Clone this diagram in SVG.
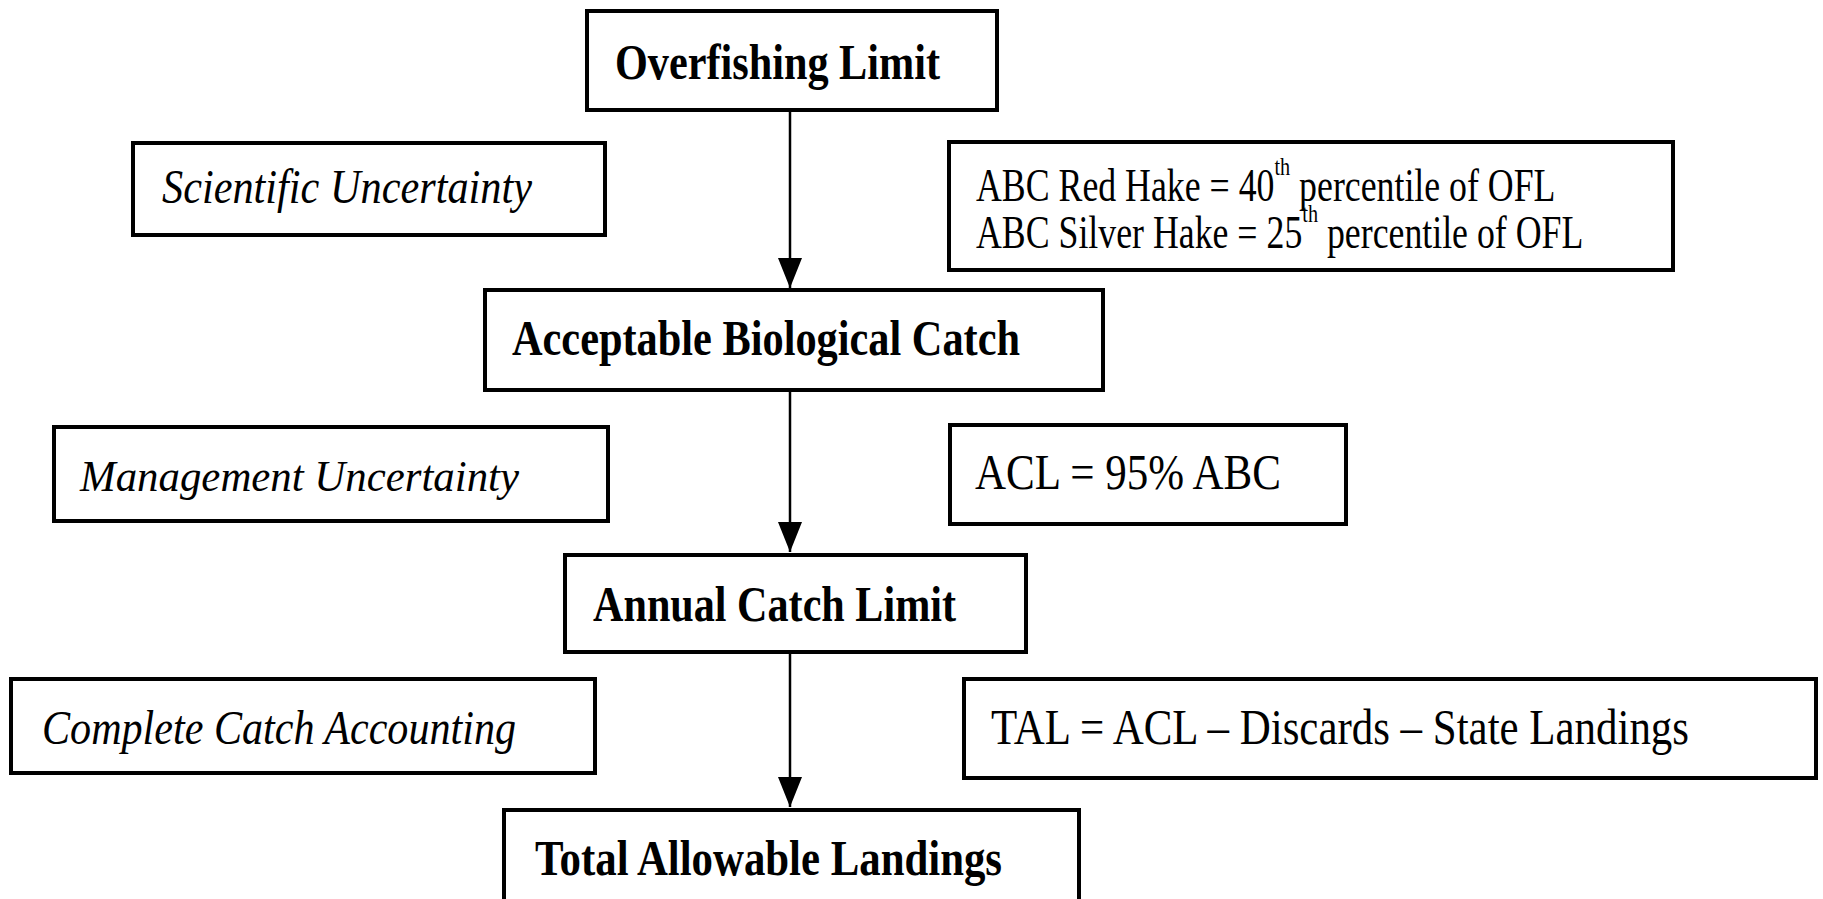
<svg xmlns="http://www.w3.org/2000/svg" width="1823" height="899" viewBox="0 0 1823 899">
<style>
.box{fill:#fff;stroke:#000;stroke-width:4}
.hd{font-family:"Liberation Serif","Times New Roman",serif;font-weight:bold;font-size:50px;fill:#000}
.it{font-family:"Liberation Serif","Times New Roman",serif;font-style:italic;fill:#000}
.rg{font-family:"Liberation Serif","Times New Roman",serif;fill:#000}
.cn{stroke:#000;stroke-width:2.5;fill:none}
</style>
<defs>
<marker id="ah" viewBox="0 0 30 24" refX="30" refY="12" markerWidth="30" markerHeight="24" markerUnits="userSpaceOnUse" orient="auto">
<path d="M0,0 L30,12 L0,24 z" fill="#000"/>
</marker>
</defs>
<rect width="1823" height="899" fill="#fff"/>
<g id="connectors">
<line class="cn" x1="790" y1="112" x2="790" y2="288" marker-end="url(#ah)"/>
<line class="cn" x1="790" y1="392" x2="790" y2="552" marker-end="url(#ah)"/>
<line class="cn" x1="790" y1="654" x2="790" y2="807" marker-end="url(#ah)"/>
</g>
<g id="ofl">
<rect class="box" x="587" y="11" width="410" height="99"/>
<text class="hd" x="615" y="79" textLength="325" lengthAdjust="spacingAndGlyphs">Overfishing Limit</text>
</g>
<g id="sci">
<rect class="box" x="133" y="143" width="472" height="92"/>
<text class="it" x="162" y="203" font-size="48" textLength="370" lengthAdjust="spacingAndGlyphs">Scientific Uncertainty</text>
</g>
<g id="abcrule">
<rect class="box" x="949" y="142" width="724" height="128"/>
<text class="rg" font-size="46" transform="translate(976,201) scale(0.778,1)">ABC Red Hake = 40<tspan font-size="26" dy="-26">th</tspan><tspan dy="26"> percentile of OFL</tspan></text>
<text class="rg" font-size="46" transform="translate(976,248) scale(0.778,1)">ABC Silver Hake = 25<tspan font-size="26" dy="-26">th</tspan><tspan dy="26"> percentile of OFL</tspan></text>
</g>
<g id="abc">
<rect class="box" x="485" y="290" width="618" height="100"/>
<text class="hd" x="512" y="355" textLength="508" lengthAdjust="spacingAndGlyphs">Acceptable Biological Catch</text>
</g>
<g id="mgmt">
<rect class="box" x="54" y="427" width="554" height="94"/>
<text class="it" x="80" y="491" font-size="44" textLength="439" lengthAdjust="spacingAndGlyphs">Management Uncertainty</text>
</g>
<g id="aclrule">
<rect class="box" x="950" y="425" width="396" height="99"/>
<text class="rg" x="975" y="489" font-size="51" textLength="306" lengthAdjust="spacingAndGlyphs">ACL = 95% ABC</text>
</g>
<g id="acl">
<rect class="box" x="565" y="555" width="461" height="97"/>
<text class="hd" x="593" y="621" textLength="363" lengthAdjust="spacingAndGlyphs">Annual Catch Limit</text>
</g>
<g id="cca">
<rect class="box" x="11" y="679" width="584" height="94"/>
<text class="it" x="42" y="744" font-size="48" textLength="474" lengthAdjust="spacingAndGlyphs">Complete Catch Accounting</text>
</g>
<g id="talrule">
<rect class="box" x="964" y="679" width="852" height="99"/>
<text class="rg" x="991" y="744" font-size="50" textLength="698" lengthAdjust="spacingAndGlyphs">TAL = ACL – Discards – State Landings</text>
</g>
<g id="tal">
<rect class="box" x="504" y="810" width="575" height="120"/>
<text class="hd" x="535" y="875" textLength="467" lengthAdjust="spacingAndGlyphs">Total Allowable Landings</text>
</g>
</svg>
